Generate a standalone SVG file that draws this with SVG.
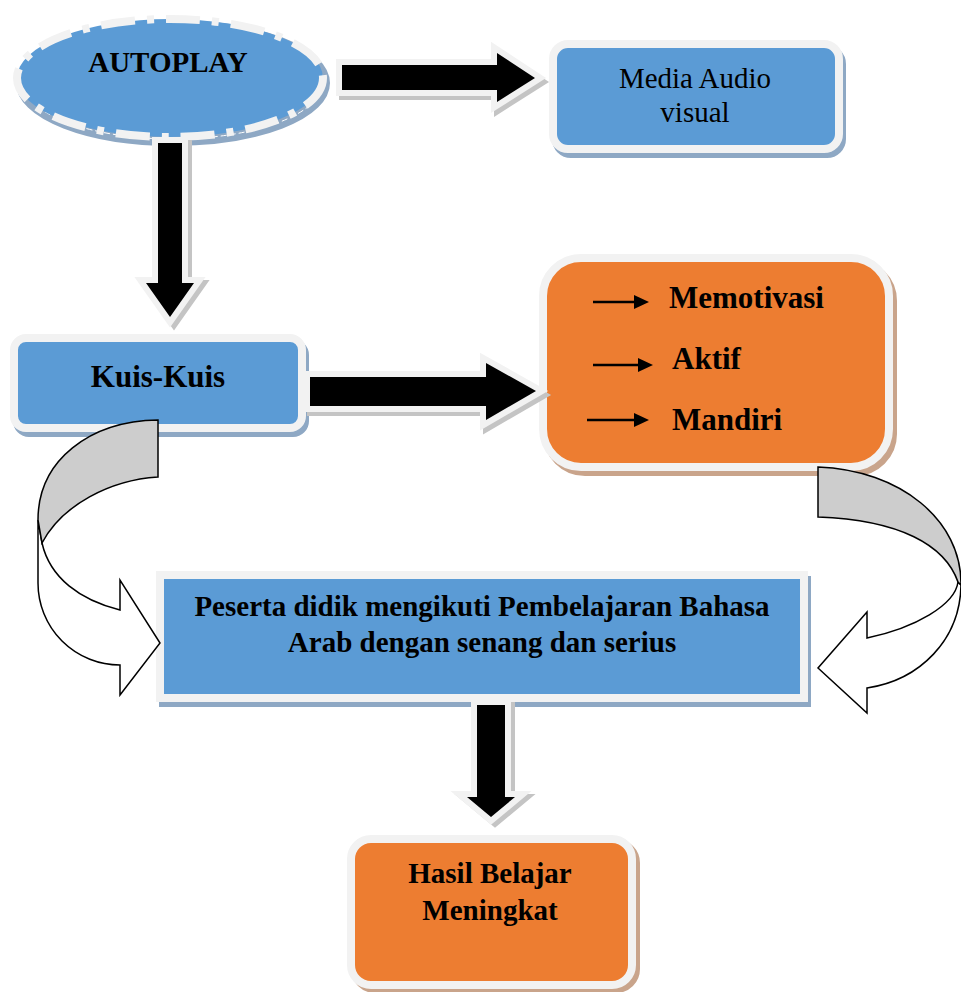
<svg xmlns="http://www.w3.org/2000/svg" width="961" height="992" viewBox="0 0 961 992">
<defs>
<style>
.blue{fill:#5b9bd5;stroke:#f2f2f2;stroke-width:8}
.orange{fill:#ed7d31;stroke:#f2f2f2;stroke-width:8}
.shb{fill:#8ea8c4;stroke:#8ea8c4;stroke-width:8}
.sho{fill:#c9a48b;stroke:#c9a48b;stroke-width:8}
.t{font-family:"Liberation Serif","Times New Roman",serif;fill:#000}
.b{font-weight:bold}
.blk{fill:#000;stroke:#f2f2f2;stroke-width:12;stroke-linejoin:miter;stroke-miterlimit:10;paint-order:stroke}
.ash{fill:#c4c4c4;stroke:#c4c4c4;stroke-width:12;stroke-linejoin:miter;stroke-miterlimit:10}
.curv{stroke:#000;stroke-width:1.5;stroke-linejoin:miter}
.small{stroke:#000;stroke-width:2.5}
</style>
</defs>
<rect width="961" height="992" fill="#fff"/>

<g id="autoplay">
<ellipse cx="173" cy="83" rx="153" ry="59" class="shb" stroke-width="6"/>
<ellipse cx="173" cy="82" rx="150" ry="57" fill="none" stroke="#fff" stroke-width="1" stroke-dasharray="6 3"/>
<ellipse cx="170" cy="78" rx="153" ry="59" fill="#5b9bd5" stroke="#f2f2f2" stroke-width="8" stroke-dasharray="34 12 7 12"/>
<text x="168" y="72" text-anchor="middle" font-size="29" class="t b">AUTOPLAY</text>
</g>

<g id="media">
<rect x="556" y="49" width="286" height="105" rx="15" class="shb"/>
<rect x="553" y="44" width="286" height="105" rx="15" class="blue"/>
<text x="695" y="88" text-anchor="middle" font-size="29" class="t">Media Audio</text>
<text x="695" y="122" text-anchor="middle" font-size="29" class="t">visual</text>
</g>

<g id="kuis">
<rect x="17" y="343" width="288" height="90" rx="12" class="shb"/>
<rect x="14" y="338" width="288" height="90" rx="12" class="blue"/>
<text x="158" y="387" text-anchor="middle" font-size="31" class="t b">Kuis-Kuis</text>
</g>

<g id="hasil-aktivitas">
<rect x="547" y="263" width="346" height="209" rx="38" class="sho"/>
<rect x="543" y="258" width="346" height="209" rx="38" class="orange"/>
<line x1="593" y1="302" x2="636" y2="302" class="small"/>
<polygon points="634,295 649,302 634,309" fill="#000"/>
<line x1="593" y1="365" x2="640" y2="365" class="small"/>
<polygon points="638,358 653,365 638,372" fill="#000"/>
<line x1="587" y1="420" x2="636" y2="420" class="small"/>
<polygon points="634,413 649,420 634,427" fill="#000"/>
<text x="669" y="308" font-size="31" class="t b">Memotivasi</text>
<text x="672" y="369" font-size="31" class="t b">Aktif</text>
<text x="672" y="430" font-size="31" class="t b">Mandiri</text>
</g>

<g id="peserta">
<rect x="163" y="580" width="644" height="123" class="shb"/>
<rect x="160" y="575" width="644" height="123" class="blue"/>
<text x="482" y="616" text-anchor="middle" font-size="29" class="t b">Peserta didik mengikuti Pembelajaran Bahasa</text>
<text x="482" y="652" text-anchor="middle" font-size="29" class="t b">Arab dengan senang dan serius</text>
</g>

<g id="hasil">
<rect x="355" y="843" width="281" height="146" rx="20" class="sho"/>
<rect x="351" y="839" width="281" height="146" rx="20" class="orange"/>
<text x="490" y="883" text-anchor="middle" font-size="29" class="t b">Hasil Belajar</text>
<text x="490" y="920" text-anchor="middle" font-size="29" class="t b">Meningkat</text>
</g>

<g id="connectors">
<g transform="translate(3,4)">
<polygon class="ash" points="342,65 497,65 497,53 535,78 497,102 497,90 342,90"/>
</g>
<polygon class="blk" points="342,65 497,65 497,53 535,78 497,102 497,90 342,90"/>

<g transform="translate(4,3)">
<polygon class="ash" points="158,143 182,143 182,283 194,283 170,317 146,283 158,283"/>
</g>
<polygon class="blk" points="158,143 182,143 182,283 194,283 170,317 146,283 158,283"/>

<g transform="translate(3,4)">
<polygon class="ash" points="310,377 486,377 486,363 536,391 486,420 486,406 310,406"/>
</g>
<polygon class="blk" points="310,377 486,377 486,363 536,391 486,420 486,406 310,406"/>

<g transform="translate(4,3)">
<polygon class="ash" points="477,705 505,705 505,797 515,797 491,817 467,797 477,797"/>
</g>
<polygon class="blk" points="477,705 505,705 505,797 515,797 491,817 467,797 477,797"/>

<path class="curv" fill="#fff" d="M38,520 L38,583 A82,82 0 0 0 120,665 L120,695 L160,643 L120,580 L120,610 C80,600 50,578 42,543 Z"/>
<path class="curv" fill="#cdcdcd" d="M158,420 C90,421 38,460 38,520 L42,543 C62,505 110,480 158,477 Z"/>

<path class="curv" fill="#fff" d="M961,585 C960,640 920,680 867,688 L867,713 L818,668 L867,612 L867,638 C915,628 955,605 958,582 Z"/>
<path class="curv" fill="#cdcdcd" d="M818,467 C900,470 962,520 961,585 L958,582 C945,545 900,520 818,517 Z"/>
</g>
</svg>
